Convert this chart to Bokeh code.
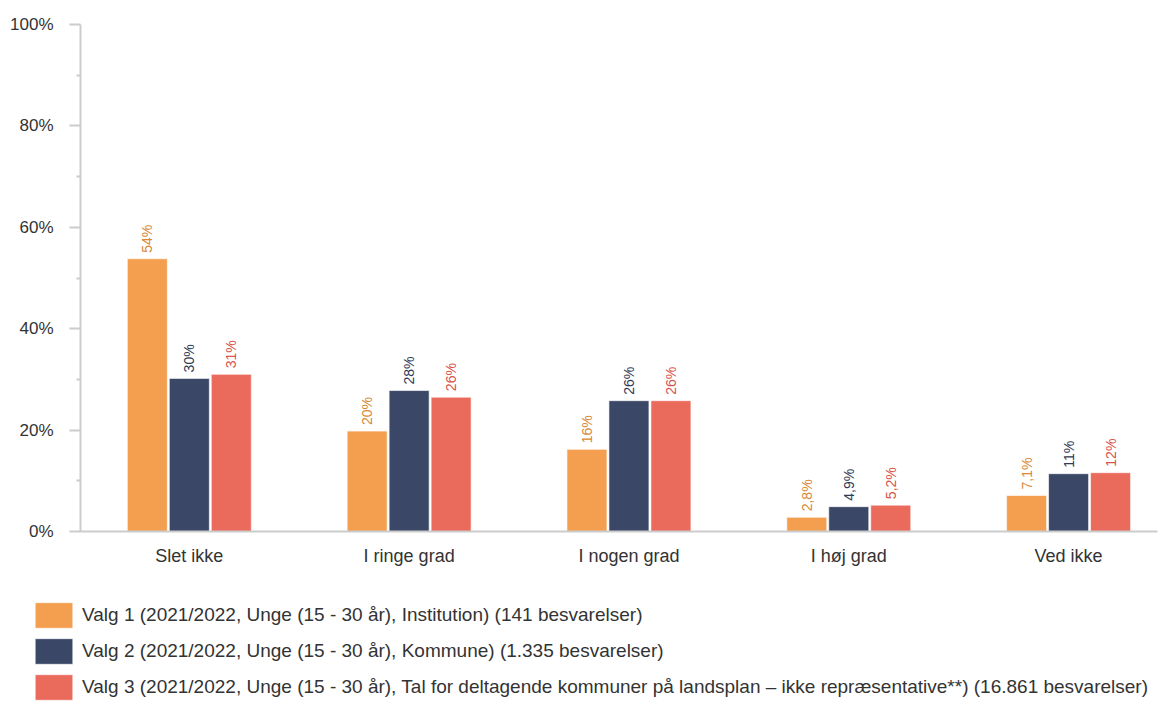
from bokeh.plotting import figure
from bokeh.models import (ColumnDataSource, FixedTicker, PrintfTickFormatter, Range1d,
                          LabelSet, Legend, LegendItem)
from bokeh.layouts import column
from bokeh.transform import dodge
from bokeh.core.properties import value
from bokeh.embed import file_html
from bokeh.resources import INLINE
import math

categories = ["Slet ikke", "I ringe grad", "I nogen grad", "I høj grad", "Ved ikke"]
series_names = [
    "Valg 1 (2021/2022, Unge (15 - 30 år), Institution) (141 besvarelser)",
    "Valg 2 (2021/2022, Unge (15 - 30 år), Kommune) (1.335 besvarelser)",
    "Valg 3 (2021/2022, Unge (15 - 30 år), Tal for deltagende kommuner på landsplan – ikke repræsentative**) (16.861 besvarelser)",
]
valg1 = [53.8, 19.8, 16.2, 2.8, 7.1]
valg2 = [30.2, 27.8, 25.8, 4.9, 11.4]
valg3 = [31.0, 26.5, 25.8, 5.2, 11.6]
valg1_labels = ["54%", "20%", "16%", "2,8%", "7,1%"]
valg2_labels = ["30%", "28%", "26%", "4,9%", "11%"]
valg3_labels = ["31%", "26%", "26%", "5,2%", "12%"]
y_ticks = [0, 20, 40, 60, 80, 100]
y_minor = [10, 30, 50, 70, 90]

bar_colors = ["#F39F4F", "#3B4766", "#EA6A5C"]
text_colors = ["#D98838", "#2E3A56", "#D9544A"]
FONT = "Liberation Sans"

xs = list(range(len(categories)))
source = ColumnDataSource(dict(
    x=xs, cat=categories,
    v1=valg1, v2=valg2, v3=valg3,
    l1=valg1_labels, l2=valg2_labels, l3=valg3_labels,
))

p = figure(width=1159, height=575, output_backend="svg", toolbar_location=None,
           x_range=Range1d(-0.495, 4.4045), y_range=Range1d(0, 100),
           min_border_left=80, min_border_right=2, min_border_top=24, min_border_bottom=44)
p.frame_align = False
p.outline_line_color = None
p.background_fill_color = "white"
p.border_fill_color = "white"
p.xgrid.visible = False
p.ygrid.visible = False

bw = 0.182
offs = [-0.191, 0.0, 0.191]
cols = [("v1", "l1"), ("v2", "l2"), ("v3", "l3")]
for i, (col, lab) in enumerate(cols):
    p.vbar(x=dodge("x", offs[i], range=p.x_range), top=col, width=bw, bottom=0,
           source=source, fill_color=bar_colors[i], line_color="white",
           line_alpha=0.6, line_width=1)
    ls = LabelSet(x=dodge("x", offs[i], range=p.x_range), y=col, text=lab, source=source,
                  angle=math.pi / 2, y_offset=6, x_offset=0,
                  text_align="left", text_baseline="middle",
                  text_font=value(FONT), text_font_size=value("14px"),
                  text_color=text_colors[i])
    p.add_layout(ls)

# axes
p.xaxis.ticker = FixedTicker(ticks=xs)
p.xaxis.major_label_overrides = {i: c for i, c in enumerate(categories)}
p.xaxis.major_tick_line_color = None
p.xaxis.minor_tick_line_color = None
p.xaxis.axis_line_color = "#cccccc"
p.xaxis.axis_line_width = 2
p.xaxis.major_label_standoff = 8
p.xaxis.major_label_text_font = FONT
p.xaxis.major_label_text_font_size = "18px"
p.xaxis.major_label_text_color = "#333333"

p.yaxis.ticker = FixedTicker(ticks=y_ticks, minor_ticks=y_minor)
p.yaxis.formatter = PrintfTickFormatter(format="%d%%")
p.yaxis.axis_line_color = "#cccccc"
p.yaxis.axis_line_width = 2
p.yaxis.major_tick_line_color = "#cccccc"
p.yaxis.major_tick_line_width = 2
p.yaxis.major_tick_out = 11
p.yaxis.major_tick_in = 0
p.yaxis.minor_tick_line_color = "#cccccc"
p.yaxis.minor_tick_line_width = 2
p.yaxis.minor_tick_out = 4
p.yaxis.minor_tick_in = 0
p.yaxis.major_label_standoff = 16
p.yaxis.major_label_text_font = FONT
p.yaxis.major_label_text_font_size = "17px"
p.yaxis.major_label_text_color = "#333333"

# legend figure below the chart (its bars lie outside its visible y range)
lg = figure(width=1159, height=128, output_backend="svg", toolbar_location=None,
            x_range=Range1d(-0.495, 4.4045), y_range=Range1d(1000, 1001),
            x_axis_location=None, y_axis_location=None,
            min_border_left=0, min_border_right=0, min_border_top=0, min_border_bottom=0)
lg.frame_align = False
lg.outline_line_color = None
lg.xgrid.visible = False
lg.ygrid.visible = False
items = []
for i, (col, lab) in enumerate(cols):
    r = lg.vbar(x="x", top=col, width=bw, source=source, fill_color=bar_colors[i],
                line_color="white", line_alpha=0.6, line_width=1)
    items.append(LegendItem(label=series_names[i], renderers=[r]))
legend = Legend(items=items, location=(30, 0), orientation="vertical",
                glyph_width=47, glyph_height=32, spacing=4, label_standoff=5,
                padding=0, margin=0, border_line_color=None, background_fill_alpha=0,
                label_text_font=FONT, label_text_font_size="19px",
                label_text_color="#333333", label_height=32)
lg.add_layout(legend, "center")

layout = column(p, lg, spacing=0)
open("out.html", "w").write(file_html(layout, INLINE))
